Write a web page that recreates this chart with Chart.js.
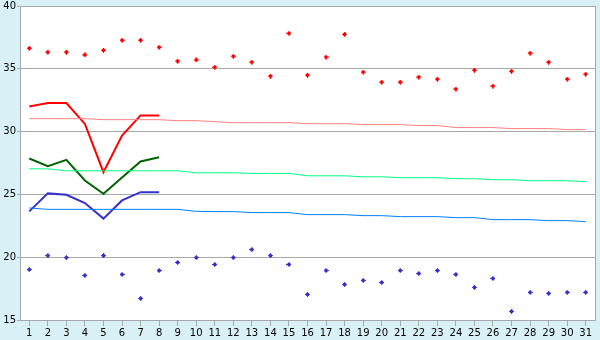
<!DOCTYPE html>
<html><head><meta charset="utf-8">
<script src="https://cdn.jsdelivr.net/npm/chart.js@4/dist/chart.umd.min.js"></script>
<style>html,body{margin:0;padding:0;background:#d9f0f7;}#wrap{width:600px;height:340px;}</style>
</head><body><div id="wrap"><canvas id="c" width="600" height="340"></canvas></div>
<script>
const days = Array.from({length:31},(_,i)=>String(i+1));
const yTicks = [15,20,25,30,35,40];
const maxPoints = [36.64,36.33,36.33,36.11,36.48,37.28,37.28,36.72,35.61,35.71,35.13,36.0,35.53,34.42,37.83,34.5,35.93,37.75,34.74,33.94,33.94,34.34,34.18,33.39,34.89,33.63,34.81,36.25,35.53,34.18,34.58];
const minPoints = [19.02,20.13,19.97,18.55,20.13,18.63,16.72,18.94,19.58,19.97,19.42,19.97,20.61,20.13,19.42,17.04,18.94,17.83,18.15,17.99,18.94,18.7,18.94,18.63,17.6,18.31,15.69,17.2,17.12,17.2,17.2];
const maxLine = [32.0,32.27,32.27,30.61,26.77,29.68,31.29,31.29];
const meanLine = [27.86,27.25,27.75,26.11,25.05,26.35,27.62,27.96];
const minLine = [23.65,25.08,24.97,24.31,23.07,24.52,25.18,25.18];
const normMax = [31.03,31.03,31.03,31.03,30.95,30.95,30.95,30.95,30.87,30.87,30.79,30.71,30.71,30.71,30.71,30.63,30.63,30.63,30.56,30.56,30.56,30.48,30.48,30.32,30.32,30.32,30.24,30.24,30.24,30.16,30.16];
const normMean = [27.04,27.03,26.88,26.88,26.88,26.88,26.88,26.88,26.88,26.72,26.72,26.72,26.67,26.67,26.67,26.48,26.48,26.48,26.40,26.40,26.33,26.33,26.33,26.25,26.25,26.17,26.17,26.09,26.09,26.09,26.01];
const normMin = [23.92,23.81,23.81,23.81,23.81,23.81,23.81,23.81,23.81,23.65,23.63,23.63,23.55,23.55,23.55,23.39,23.39,23.39,23.31,23.31,23.23,23.23,23.23,23.15,23.15,22.99,22.99,22.99,22.91,22.91,22.83];

function marker(color){
  const c=document.createElement('canvas'); c.width=5; c.height=5;
  const x=c.getContext('2d'); x.fillStyle=color;
  x.fillRect(2,0,1,5); x.fillRect(0,2,5,1); x.fillRect(1,1,3,3);
  return c;
}
const bg = {
  id:'bg',
  beforeDraw(ch){
    const {ctx, chartArea:a} = ch;
    ctx.save();
    ctx.fillStyle='#d9f0f7'; ctx.fillRect(0,0,ch.width,ch.height);
    ctx.fillStyle='#ffffff'; ctx.fillRect(a.left,a.top,a.right-a.left,a.bottom-a.top);
    ctx.restore();
  },
  afterDraw(ch){
    const {ctx, chartArea:a} = ch;
    ctx.save();
    ctx.strokeStyle='#a8a8a8'; ctx.lineWidth=1;
    ctx.beginPath();
    ctx.moveTo(Math.round(a.right)+0.5,a.top); ctx.lineTo(Math.round(a.right)+0.5,a.bottom);
    ctx.stroke();
    ctx.restore();
  }
};
const thin = (data,color)=>({type:'line',data,borderColor:color,borderWidth:1,pointRadius:0,fill:false,tension:0});
const thick = (data,color)=>({type:'line',data,borderColor:color,borderWidth:2,pointRadius:0,fill:false,tension:0});
const pts = (data,color)=>({type:'line',data,showLine:false,pointStyle:marker(color),pointRadius:3,borderColor:color,backgroundColor:color,pointHoverRadius:0});

new Chart(document.getElementById('c'),{
  type:'line',
  data:{labels:days,datasets:[
    thin(normMax,'#ff8080'),
    thin(normMean,'#00ff80'),
    thin(normMin,'#0080ff'),
    thick(maxLine,'#ff0000'),
    thick(meanLine,'#006400'),
    thick(minLine,'#3333cc'),
    pts(maxPoints,'#ff0000'),
    pts(minPoints,'#3333cc')
  ]},
  options:{
    responsive:false,animation:false,
    layout:{padding:{top:5,right:5,left:0,bottom:0}},
    plugins:{legend:{display:false},tooltip:{enabled:false}},
    elements:{line:{borderCapStyle:'butt'}},
    scales:{
      x:{type:'category',offset:true,
        grid:{display:true,drawOnChartArea:false,drawTicks:true,tickLength:6,color:'#a8a8a8',offset:false},
        border:{display:true,color:'#a8a8a8'},
        ticks:{autoSkip:false,maxRotation:0,padding:2,color:'#000',font:{family:'DejaVu Sans',size:10,lineHeight:1}},
        afterFit(s){s.height=20;}
      },
      y:{min:15,max:40,
        afterBuildTicks(s){s.ticks=yTicks.map(v=>({value:v}));},
        grid:{color:'#a8a8a8',tickLength:3,drawTicks:true},
        border:{display:true,color:'#a8a8a8'},
        ticks:{padding:1,color:'#000',font:{family:'DejaVu Sans',size:10,lineHeight:1}},
        afterFit(s){s.width=20;}
      }
    }
  },
  plugins:[bg]
});
</script></body></html>
